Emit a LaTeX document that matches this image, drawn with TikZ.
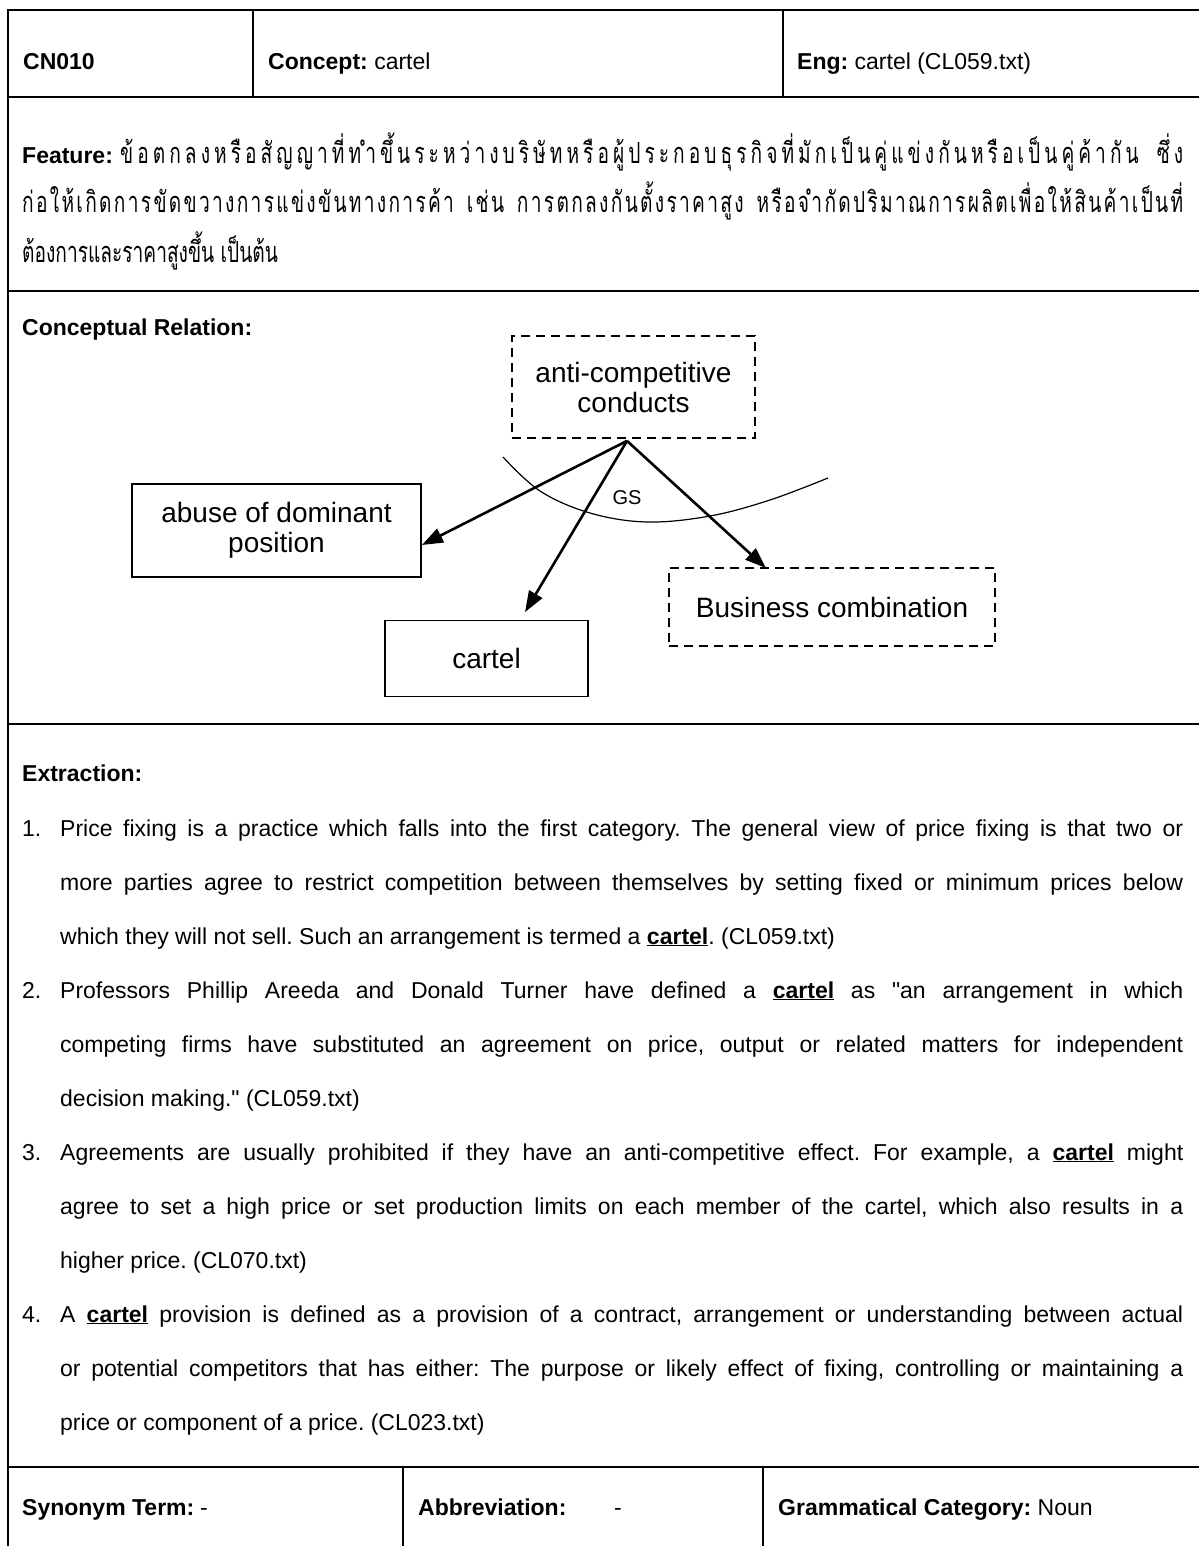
\documentclass[tikz,border=0pt]{standalone}
\usepackage{fontspec}
\usepackage{graphicx}
\setmainfont{Liberation Sans}
\newfontfamily\thaifont[Script=Thai]{Loma}
\usetikzlibrary{arrows.meta}

% Thai spacing letters (301) and combining marks (302): stretchable glue
% between clusters gives distributed justification of Thai lines
\newcount\tcc
\def\setclass#1#2#3{\tcc=#1\relax\loop\XeTeXcharclass\tcc=#3\relax\advance\tcc by 1\relax\ifnum\tcc<#2\relax\repeat}
\setclass{"0E01}{"0E31}{301}
\setclass{"0E32}{"0E34}{301}
\setclass{"0E40}{"0E47}{301}
\setclass{"0E31}{"0E32}{302}
\setclass{"0E34}{"0E3B}{302}
\setclass{"0E47}{"0E4F}{302}
\XeTeXinterchartoks 301 301 = {\hskip 0pt plus 1fil\relax}
\XeTeXinterchartoks 302 301 = {\hskip 0pt plus 1fil\relax}
% word gap inside a spread Thai line
\newcommand\tsp{\hskip 9pt plus 3fil\relax}
% narrow Thai: horizontal factor 0.66
\newcommand\thaiw[1]{\scalebox{0.66}[1]{\thaifont #1}}
\newcommand\spread[2]{\scalebox{0.66}[1]{\makebox[\dimexpr #1*100/66\relax][s]{\thaifont\XeTeXinterchartokenstate=1 #2}}}
\newcommand\just[1]{\makebox[1123pt][s]{#1}}
\newcommand\term[1]{\textbf{\underline{#1}}}

\begin{document}
\frenchspacing
\begin{tikzpicture}[x=1pt,y=-1pt,
  tbl/.style={line width=2.4pt},
  txt/.style={anchor=base west,inner sep=0pt,font=\fontsize{23}{27}\selectfont\frenchspacing},
  thai/.style={anchor=base west,inner sep=0pt,font=\fontsize{29}{32}\selectfont},
  concept/.style={draw,line width=1.8pt,inner sep=0pt,align=center,font=\fontsize{28}{30}\selectfont},
  virtual/.style={concept,dash pattern=on 9pt off 6pt},
  rel/.style={line width=2.6pt,-{Triangle[length=21pt,width=15pt]}}]

\useasboundingbox (0,0) rectangle (1199,1546);
\fill[white] (0,0) rectangle (1199,1546);

% table rules
\draw[tbl] (1199,10) -- (8,10) -- (8,1546);
\draw[tbl] (8,97) -- (1199,97);
\draw[tbl] (8,291) -- (1199,291);
\draw[tbl] (8,724) -- (1199,724);
\draw[tbl] (8,1467) -- (1199,1467);
\draw[tbl] (253,10) -- (253,97);
\draw[tbl] (783,10) -- (783,97);
\draw[tbl] (403,1467) -- (403,1546);
\draw[tbl] (763,1467) -- (763,1546);

% header row
\node[txt] (id) at (23,70) {\textbf{CN010}};
\node[txt] (concept) at (268,70) {\textbf{Concept:} cartel};
\node[txt] (eng) at (797,70) {\textbf{Eng:} cartel (CL059.txt)};

% feature
\node[txt] (feat) at (22,164) {\textbf{Feature:}};
\node[thai] (f1) at (120,164) {\spread{1063pt}{ข้อตกลงหรือสัญญาที่ทำขึ้นระหว่างบริษัทหรือผู้ประกอบธุรกิจที่มักเป็นคู่แข่งกันหรือเป็นคู่ค้ากัน\tsp ซึ่ง}};
\node[thai] (f2) at (22,213) {\spread{1161pt}{ก่อให้เกิดการขัดขวางการแข่งขันทางการค้า\tsp เช่น\tsp การตกลงกันตั้งราคาสูง\tsp หรือจำกัดปริมาณการผลิตเพื่อให้สินค้าเป็นที่}};
\node[thai] (f3) at (22,262) {\thaiw{ต้องการและราคาสูงขึ้น เป็นต้น}};

% conceptual relation
\node[txt] (crel) at (22,335) {\textbf{Conceptual Relation:}};
\node[virtual,minimum width=243pt,minimum height=102pt] (anti) at (633.5,387) {anti-competitive\\conducts};
\node[concept,minimum width=289pt,minimum height=93pt] (abuse) at (276.5,530.5) {abuse of dominant\\position};
\node[concept,minimum width=203pt,minimum height=76pt] (cartel) at (486.5,658.5) {cartel};
\node[virtual,minimum width=326pt,minimum height=78pt] (bc) at (832,607) {Business combination};

% generalisation arc
\draw[line width=1.2pt] plot[smooth,tension=0.6] coordinates
  {(503,457) (540,491) (590,513) (647,522) (710,516) (770,500) (828,478)};
\node[inner sep=0pt,font=\fontsize{20}{22}\selectfont] (gs) at (627,498) {GS};

\coordinate (apex) at ([xshift=-6.5pt,yshift=-2pt]anti.south);
\draw[rel] (apex) -- ([yshift=-14.5pt]abuse.east);
\draw[rel] (apex) -- ([xshift=38.5pt,yshift=7.5pt]cartel.north);
\draw[rel] (apex) -- ([xshift=-66pt,yshift=-1pt]bc.north);

% extraction
\node[txt] (ext) at (22,781) {\textbf{Extraction:}};
\node[txt] (n1) at (22,836) {1.};
\node[txt] (e1a) at (60,836) {\just{Price fixing is a practice which falls into the first category. The general view of price fixing is that two or}};
\node[txt] (e1b) at (60,890) {\just{more parties agree to restrict competition between themselves by setting fixed or minimum prices below}};
\node[txt] (e1c) at (60,944) {which they will not sell. Such an arrangement is termed a \term{cartel}. (CL059.txt)};
\node[txt] (n2) at (22,998) {2.};
\node[txt] (e2a) at (60,998) {\just{Professors Phillip Areeda and Donald Turner have defined a \term{cartel} as \textquotedbl an arrangement in which}};
\node[txt] (e2b) at (60,1052) {\just{competing firms have substituted an agreement on price, output or related matters for independent}};
\node[txt] (e2c) at (60,1106) {decision making.\textquotedbl{} (CL059.txt)};
\node[txt] (n3) at (22,1160) {3.};
\node[txt] (e3a) at (60,1160) {\just{Agreements are usually prohibited if they have an anti-competitive effect. For example, a \term{cartel} might}};
\node[txt] (e3b) at (60,1214) {\just{agree to set a high price or set production limits on each member of the cartel, which also results in a}};
\node[txt] (e3c) at (60,1268) {higher price. (CL070.txt)};
\node[txt] (n4) at (22,1322) {4.};
\node[txt] (e4a) at (60,1322) {\just{A \term{cartel} provision is defined as a provision of a contract, arrangement or understanding between actual}};
\node[txt] (e4b) at (60,1376) {\just{or potential competitors that has either: The purpose or likely effect of fixing, controlling or maintaining a}};
\node[txt] (e4c) at (60,1430) {price or component of a price. (CL023.txt)};

% bottom row
\node[txt] (syn) at (22,1515) {\textbf{Synonym Term:}};
\node[txt] (synv) at (200,1515) {-};
\node[txt] (abbr) at (418,1515) {\textbf{Abbreviation:}};
\node[txt] (abbrv) at (614,1515) {-};
\node[txt] (gram) at (778,1515) {\textbf{Grammatical Category:} Noun};
\end{tikzpicture}
\end{document}
